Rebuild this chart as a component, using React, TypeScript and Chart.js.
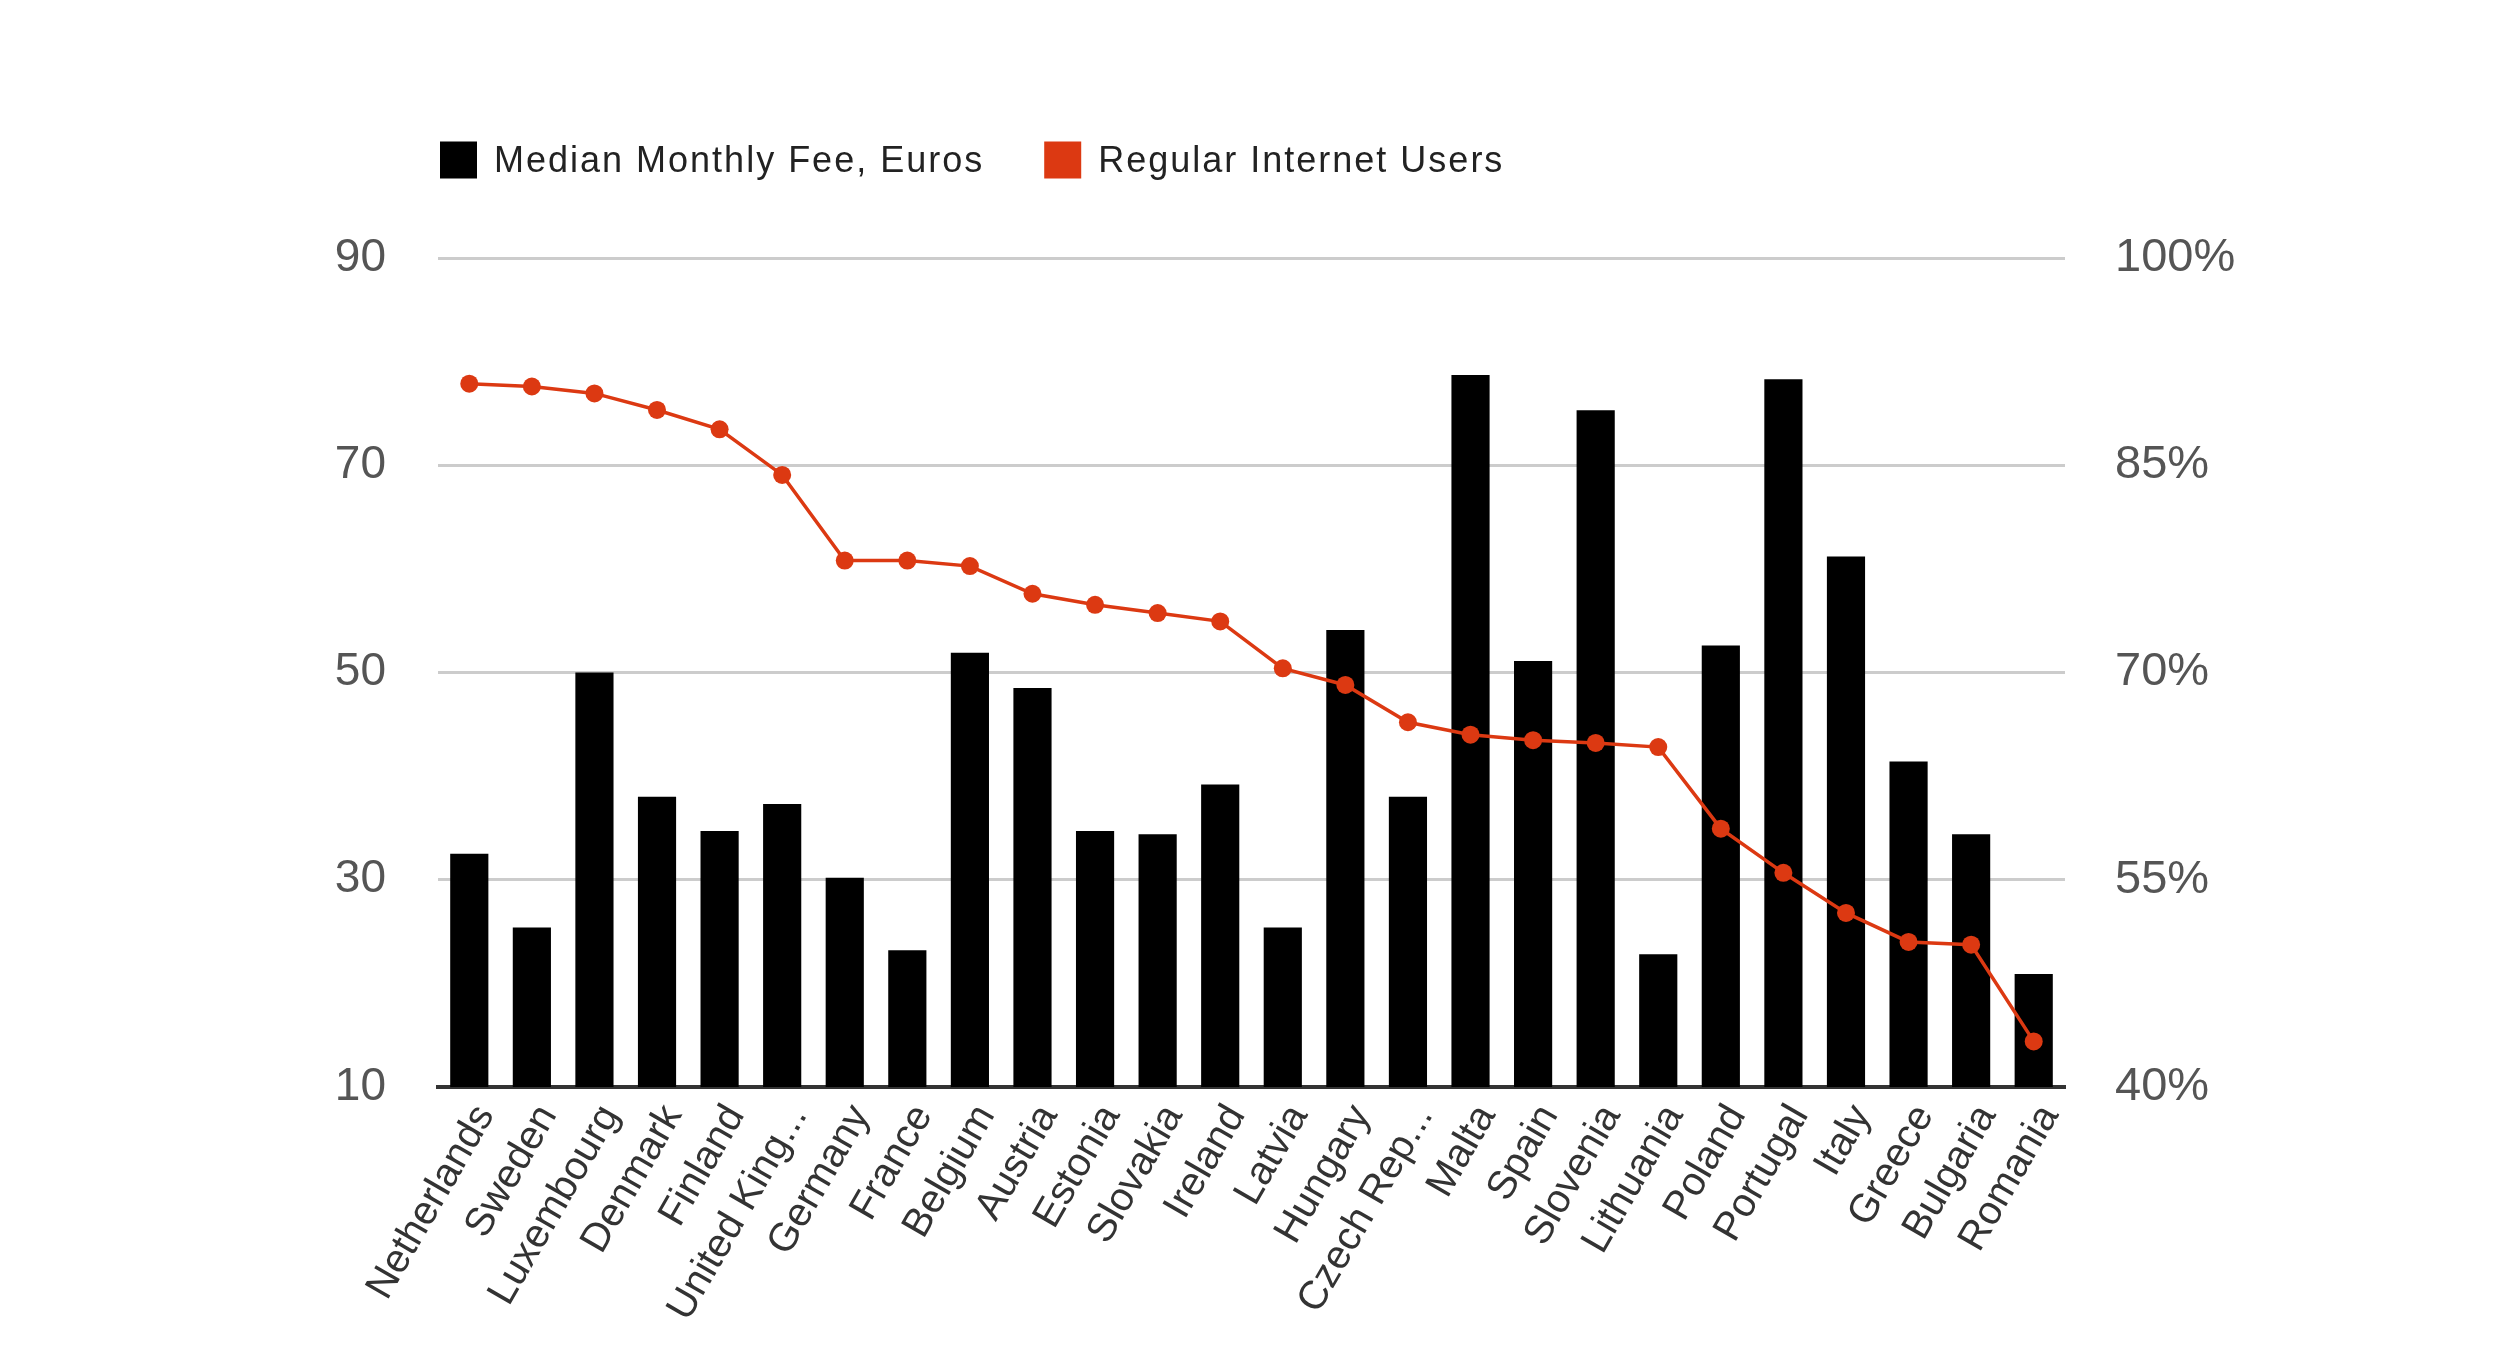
import React, { useEffect, useRef } from "react";
import { Chart, registerables } from "chart.js";

Chart.register(...registerables);

const categories = [
  "Netherlands", "Sweden", "Luxembourg", "Denmark", "Finland", "United King...",
  "Germany", "France", "Belgium", "Austria", "Estonia", "Slovakia", "Ireland",
  "Latvia", "Hungary", "Czech Rep...", "Malta", "Spain", "Slovenia", "Lithuania",
  "Poland", "Portugal", "Italy", "Greece", "Bulgaria", "Romania",
];
const medianFee = [
  32.5, 25.4, 50.0, 38.0, 34.7, 37.3, 30.2, 23.2, 51.9, 48.5, 34.7, 34.4, 39.2,
  25.4, 54.1, 38.0, 78.7, 51.1, 75.3, 22.8, 52.6, 78.3, 61.2, 41.4, 34.4, 20.9,
];
const internetUsers = [
  90.9, 90.7, 90.2, 89.0, 87.6, 84.3, 78.1, 78.1, 77.7, 75.7, 74.9, 74.3, 73.7,
  70.3, 69.1, 66.4, 65.5, 65.1, 64.9, 64.6, 58.7, 55.5, 52.6, 50.5, 50.3, 43.3,
];
const leftTicks = [10, 30, 50, 70, 90];
const rightTicks = [40, 55, 70, 85, 100];
const seriesNames = ["Median Monthly Fee, Euros", "Regular Internet Users"];
const seriesColors = ["#000000", "#dc3912"];

const FONT = "'Liberation Sans', Arial, sans-serif";

const legendPlugin = {
  id: "customLegend",
  afterDraw(chart: any) {
    const ctx = chart.ctx as CanvasRenderingContext2D;
    ctx.save();
    ctx.font = `36px ${FONT}`;
    (ctx as any).letterSpacing = "2px";
    ctx.textBaseline = "middle";
    ctx.textAlign = "left";
    let x = chart.chartArea.left + 2;
    const yc = 160;
    const box = 37;
    seriesNames.forEach((name, i) => {
      ctx.fillStyle = seriesColors[i];
      ctx.fillRect(x, yc - box / 2, box, box);
      x += box + 17;
      ctx.fillStyle = "#222222";
      ctx.fillText(name, x, yc + 2);
      x += ctx.measureText(name).width + 60;
    });
    ctx.restore();
  },
};

export default function App() {
  const ref = useRef<HTMLCanvasElement | null>(null);

  useEffect(() => {
    if (!ref.current) return;
    const chart = new Chart(ref.current, {
      type: "bar",
      data: {
        labels: categories,
        datasets: [
          {
            type: "line",
            label: seriesNames[1],
            data: internetUsers,
            yAxisID: "yR",
            borderColor: seriesColors[1],
            backgroundColor: seriesColors[1],
            borderWidth: 3.5,
            pointRadius: 9,
            pointBorderWidth: 0,
            pointBackgroundColor: seriesColors[1],
            tension: 0,
            order: 0,
          } as any,
          {
            type: "bar",
            label: seriesNames[0],
            data: medianFee,
            yAxisID: "yL",
            backgroundColor: seriesColors[0],
            categoryPercentage: 1,
            barPercentage: 0.61,
            order: 1,
          },
        ],
      },
      options: {
        responsive: false,
        animation: false,
        layout: { padding: { top: 258, left: 0, right: 0, bottom: 0 } },
        plugins: {
          legend: { display: false },
          tooltip: { enabled: false },
        },
        scales: {
          x: {
            grid: { display: false, drawTicks: false },
            border: { display: true, color: "#333333", width: 4 },
            ticks: {
              autoSkip: false,
              maxRotation: 60,
              minRotation: 60,
              padding: 10,
              labelOffset: 16,
              color: "#333333",
              font: { family: FONT, size: 40 },
            },
            afterFit: (s: any) => {
              s.height = 261;
            },
          },
          yL: {
            type: "linear",
            position: "left",
            min: leftTicks[0],
            max: leftTicks[leftTicks.length - 1],
            afterBuildTicks: (s: any) => {
              s.ticks = leftTicks.map((v) => ({ value: v }));
            },
            grid: { color: "#cccccc", lineWidth: 3, drawTicks: false },
            border: { display: false },
            ticks: {
              padding: 52,
              color: "#555555",
              font: { family: FONT, size: 46 },
            },
            afterFit: (s: any) => {
              s.width = 438;
            },
          },
          yR: {
            type: "linear",
            position: "right",
            min: rightTicks[0],
            max: rightTicks[rightTicks.length - 1],
            afterBuildTicks: (s: any) => {
              s.ticks = rightTicks.map((v) => ({ value: v }));
            },
            grid: { display: false, drawTicks: false },
            border: { display: false },
            ticks: {
              padding: 50,
              color: "#555555",
              font: { family: FONT, size: 47 },
              callback: (v: any) => `${v}%`,
            },
            afterFit: (s: any) => {
              s.width = 435;
            },
          },
        },
      },
      plugins: [legendPlugin],
    });
    return () => chart.destroy();
  }, []);

  return (
    <div style={{ position: "absolute", left: 0, top: 0, width: 2500, height: 1348, background: "#fff" }}>
      <canvas ref={ref} width={2500} height={1348} />
    </div>
  );
}
